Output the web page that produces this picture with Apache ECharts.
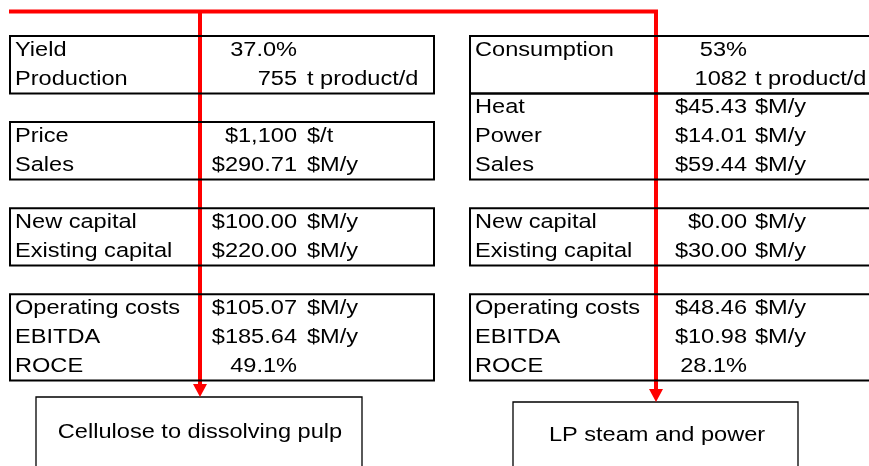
<!DOCTYPE html>
<html><head><meta charset="utf-8">
<script src="https://cdn.jsdelivr.net/npm/echarts@6/dist/echarts.min.js"></script>
<style>html,body{margin:0;padding:0;background:#fff}#c{width:869px;height:466px}</style>
</head><body><div id="c"></div>
<script>
// ---- data ----
const leftRows   = [0, 1, 3, 4, 6, 7, 9, 10, 11];
const leftLabels = ['Yield','Production','Price','Sales','New capital','Existing capital','Operating costs','EBITDA','ROCE'];
const leftValues = ['37.0%','755','$1,100','$290.71','$100.00','$220.00','$105.07','$185.64','49.1%'];
const leftUnits  = ['','t product/d','$/t','$M/y','$M/y','$M/y','$M/y','$M/y',''];

const rightRows   = [0, 1, 2, 3, 4, 6, 7, 9, 10, 11];
const rightLabels = ['Consumption','','Heat','Power','Sales','New capital','Existing capital','Operating costs','EBITDA','ROCE'];
const rightValues = ['53%','1082','$45.43','$14.01','$59.44','$0.00','$30.00','$48.46','$10.98','28.1%'];
const rightUnits  = ['','t product/d','$M/y','$M/y','$M/y','$M/y','$M/y','$M/y','$M/y',''];

const leftBoxes  = [[0,2],[3,5],[6,8],[9,12]];
const rightBoxes = [[0,2],[2,5],[6,8],[9,12]];
const processNames = ['Cellulose to dissolving pulp','LP steam and power'];

// ---- layout / style ----
const FONT = '20.5px "Liberation Sans", Arial, sans-serif';
const SX = 1.15;
const cols = [
  {x0:10,  x1:434, label:15,  valueRight:297, unit:307},
  {x0:470, x1:900, label:475, valueRight:747, unit:755}
];
const tables = [
  {rows:leftRows, labels:leftLabels, values:leftValues, units:leftUnits, boxes:leftBoxes},
  {rows:rightRows, labels:rightLabels, values:rightValues, units:rightUnits, boxes:rightBoxes}
];

function txt(x, y, s, align){
  return {type:'text', x:x, y:y, scaleX:SX,
    style:{text:s, x:0, y:0, fill:'#000', font:FONT, textAlign:align, textVerticalAlign:'middle'}};
}

const series = [];
tables.forEach((t, side) => {
  const c = cols[side];
  series.push({
    type:'custom', coordinateSystem:'cartesian2d', silent:true, clip:false,
    data: t.boxes.map(b => [0, b[0], b[1]]),
    renderItem: (params, api) => {
      const y0 = api.coord([0, api.value(1)])[1];
      const y1 = api.coord([0, api.value(2)])[1];
      return {type:'rect', shape:{x:c.x0, y:y0, width:c.x1-c.x0, height:y1-y0},
        style:{fill:'none', stroke:'#000', lineWidth:2}};
    }
  });
  series.push({
    type:'custom', coordinateSystem:'cartesian2d', silent:true, clip:false,
    data: t.rows.map(r => [0, r]),
    renderItem: (params, api) => {
      const i = params.dataIndex;
      const y = api.coord([0, api.value(1) + 0.5])[1];
      const children = [];
      if (t.labels[i]) children.push(txt(c.label, y, t.labels[i], 'left'));
      if (t.values[i]) children.push(txt(c.valueRight, y, t.values[i], 'right'));
      if (t.units[i]) children.push(txt(c.unit, y, t.units[i], 'left'));
      return {type:'group', children:children};
    }
  });
});

const RED = '#ff0000';
const graphic = [
  {type:'line', shape:{x1:9, y1:11.5, x2:658, y2:11.5}, style:{stroke:RED, lineWidth:4}},
  {type:'line', shape:{x1:200, y1:11.5, x2:200, y2:386}, style:{stroke:RED, lineWidth:4}},
  {type:'polygon', shape:{points:[[193,384],[207,384],[200,397]]}, style:{fill:RED}},
  {type:'line', shape:{x1:656, y1:11.5, x2:656, y2:391}, style:{stroke:RED, lineWidth:4}},
  {type:'polygon', shape:{points:[[649,389],[663,389],[656,402]]}, style:{fill:RED}},
  {type:'rect', shape:{x:36, y:397, width:326, height:100}, style:{fill:'#fff', stroke:'#000', lineWidth:1.3}, z:-1},
  {type:'rect', shape:{x:513, y:402, width:285, height:100}, style:{fill:'#fff', stroke:'#000', lineWidth:1.3}, z:-1},
  {type:'text', x:200, y:432, scaleX:SX, style:{text:processNames[0], x:0, y:0, fill:'#000', font:FONT, textAlign:'center', textVerticalAlign:'middle'}},
  {type:'text', x:657, y:435, scaleX:SX, style:{text:processNames[1], x:0, y:0, fill:'#000', font:FONT, textAlign:'center', textVerticalAlign:'middle'}}
];

const chart = echarts.init(document.getElementById('c'), null, {renderer:'canvas'});
chart.setOption({
  animation:false,
  backgroundColor:'#fff',
  grid:{left:0, top:36, width:869, height:344.4},
  xAxis:{type:'value', min:0, max:1, show:false},
  yAxis:{type:'value', min:0, max:12, inverse:true, show:false},
  series:series,
  graphic:graphic
});
</script></body></html>
